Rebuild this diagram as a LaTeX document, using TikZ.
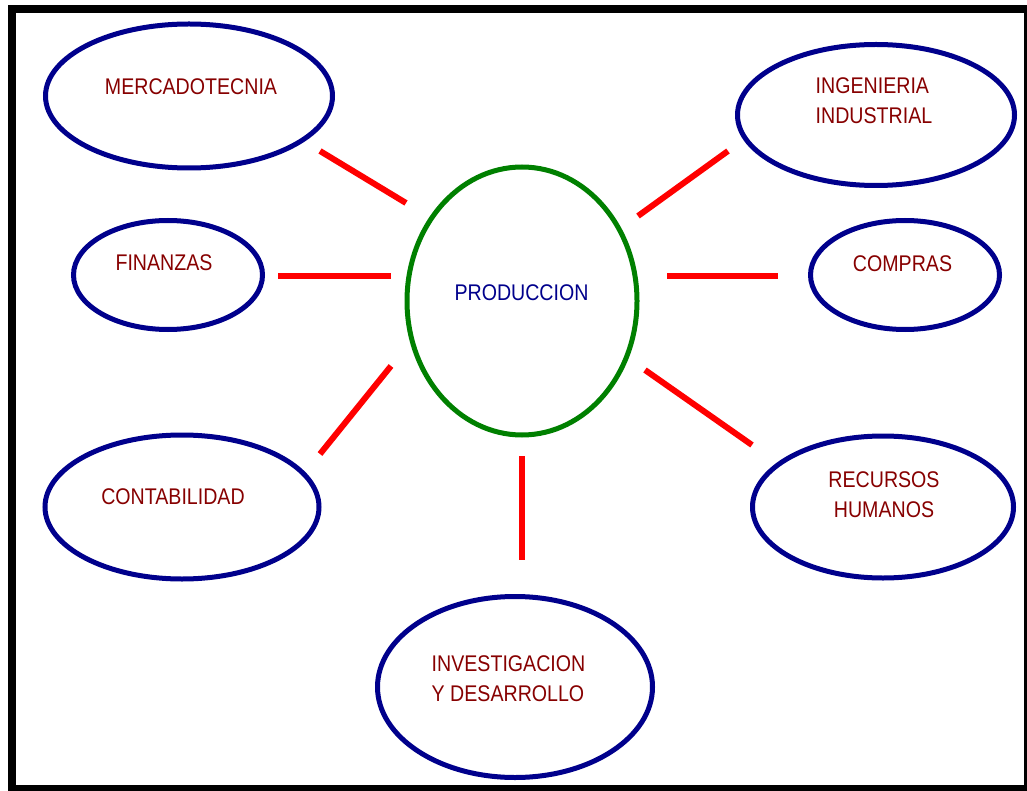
\documentclass[tikz,border=0pt]{standalone}
\usepackage{fontspec}
\newfontfamily\areafont[FakeStretch=0.865]{Liberation Sans}
\usetikzlibrary{shapes.geometric}
\definecolor{navy}{RGB}{0,0,140}
\definecolor{maroon}{RGB}{135,0,0}
\definecolor{leaf}{RGB}{0,128,0}
\tikzset{
	area/.style={ellipse, draw=navy, line width=3.75pt, inner sep=0pt},
	core/.style={ellipse, draw=leaf, line width=3.75pt, inner sep=0pt},
	txt/.style={text=maroon, font=\areafont\fontsize{17pt}{22.5pt}\selectfont, inner sep=0pt},
	link/.style={draw=red, line width=4.5pt}
}

\begin{document}
\begin{tikzpicture}[x=0.75pt, y=-0.75pt]
			%%%%% START %%%%%
			\useasboundingbox (0, 0) rectangle (1027, 791);
			
			\fill[black] (8, 5) rectangle (1027, 791);
			\fill[white] (16, 13) rectangle (1024, 785);
			
			\node[core, minimum width=172.5pt, minimum height=201pt] (prod) at (522, 301) {};
			\node[txt, text=navy] (prod-t) at (521.5, 292.5) {PRODUCCION};
			
			\node[area, minimum width=215.25pt, minimum height=108pt] (merc) at (189, 96) {};
			\node[txt] (merc-t) at (191, 86.5) {MERCADOTECNIA};
			
			\node[area, minimum width=207.75pt, minimum height=105.75pt] (ing) at (876, 115) {};
			\node[txt, align=left] (ing-t) at (874, 100.5) {INGENIERIA\\INDUSTRIAL};
			
			\node[area, minimum width=141.75pt, minimum height=81.75pt] (fin) at (168, 275) {};
			\node[txt] (fin-t) at (164, 262.5) {FINANZAS};
			
			\node[area, minimum width=141.75pt, minimum height=81.75pt] (comp) at (905, 275) {};
			\node[txt] (comp-t) at (902.5, 263.5) {COMPRAS};
			
			\node[area, minimum width=205.5pt, minimum height=108pt] (cont) at (182, 507) {};
			\node[txt] (cont-t) at (173, 496.5) {CONTABILIDAD};
			
			\node[area, minimum width=195.75pt, minimum height=106.5pt] (rh) at (883, 507) {};
			\node[txt, align=center] (rh-t) at (884, 495) {RECURSOS\\HUMANOS};
			
			\node[area, minimum width=206.25pt, minimum height=135.75pt] (inv) at (515, 687) {};
			\node[txt, align=left] (inv-t) at (508.5, 678.5) {INVESTIGACION\\Y DESARROLLO};
			
			% red links, ends free of the ellipses
			\coordinate (merc-a) at (320, 151);
			\coordinate (merc-b) at (406, 203);
			\coordinate (ing-a) at (638, 216);
			\coordinate (ing-b) at (728, 151);
			\coordinate (fin-a) at (278, 276);
			\coordinate (fin-b) at (391, 276);
			\coordinate (comp-a) at (667, 276);
			\coordinate (comp-b) at (778, 276);
			\coordinate (cont-a) at (391, 366);
			\coordinate (cont-b) at (320, 454);
			\coordinate (rh-a) at (645, 370);
			\coordinate (rh-b) at (752, 445);
			\coordinate (inv-a) at (522, 456);
			\coordinate (inv-b) at (522, 560);
			
			\foreach \n in {merc, ing, fin, comp, cont, rh, inv}
				\draw[link] (\n-a) -- (\n-b);
			
			%%%%% END %%%%%
\end{tikzpicture}
\end{document}
